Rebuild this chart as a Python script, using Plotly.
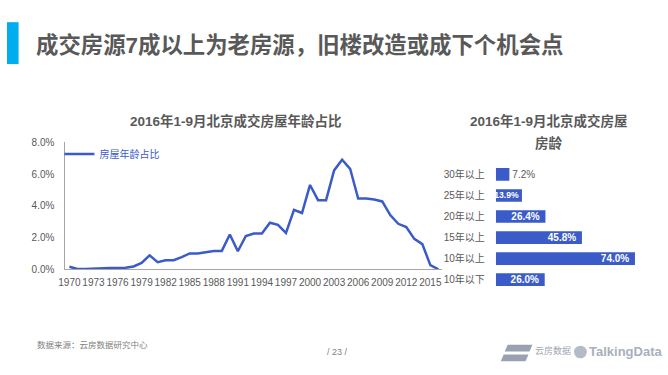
import plotly.graph_objects as go

# ---------------- data ----------------
years = [str(y) for y in range(1970, 2017)]
share = [0.16, 0.02, 0.02, 0.05, 0.08, 0.08, 0.08, 0.10, 0.18, 0.40,
         0.88, 0.45, 0.57, 0.57, 0.77, 1.00, 1.00, 1.06, 1.16, 1.16,
         2.20, 1.14, 2.10, 2.26, 2.26, 2.94, 2.81, 2.30, 3.75, 3.55,
         5.32, 4.36, 4.36, 6.24, 6.91, 6.34, 4.46, 4.46, 4.40, 4.28,
         3.42, 2.87, 2.67, 1.92, 1.59, 0.26, 0.00]
year_ticks = years[::3]
y_ticks = [0, 2, 4, 6, 8]
y_tick_labels = ["0.0%", "2.0%", "4.0%", "6.0%", "8.0%"]

age_groups = ["30年以上", "25年以上", "20年以上", "15年以上", "10年以上", "10年以下"]
age_values = [7.2, 13.9, 26.4, 45.8, 74.0, 26.0]

# ---------------- style ----------------
W, H = 668, 375
BLUE = "#3B5BC8"
GRAY = "#595959"
FONT = "Liberation Sans, Noto Sans CJK SC, sans-serif"


def px(x):
    return x / W


def py(y):
    return 1 - y / H


fig = go.Figure()

fig.add_trace(go.Scatter(
    x=years, y=share, mode="lines", name="房屋年龄占比",
    line=dict(color=BLUE, width=2.5), xaxis="x", yaxis="y",
    hovertemplate="%{x}: %{y:.2f}%<extra></extra>"))

positions = ["outside" if v < 10 else "inside" for v in age_values]
templates = ["%{x:.1f}%" if v < 20 else "%{x:.1f}%\u00a0" for v in age_values]
in_sizes = [10 if v >= 20 else 8.6 for v in age_values]
fig.add_trace(go.Bar(
    x=age_values, y=age_groups, orientation="h", xaxis="x2", yaxis="y2",
    marker=dict(color=BLUE, line=dict(width=0)), showlegend=False,
    textposition=positions, texttemplate=templates,
    insidetextanchor="end", constraintext="none", cliponaxis=False,
    insidetextfont=dict(color="white", size=in_sizes, family=FONT, weight="bold"),
    outsidetextfont=dict(color=GRAY, size=10, family=FONT),
    hovertemplate="%{y}: %{x:.1f}%<extra></extra>"))

fig.update_layout(
    width=W, height=H, margin=dict(l=0, r=0, t=0, b=0),
    paper_bgcolor="white", plot_bgcolor="white",
    font=dict(family=FONT, color=GRAY, size=10),
    bargap=0.4,
    showlegend=True,
    legend=dict(x=px(53), y=py(153), xanchor="left", yanchor="middle",
                bgcolor="rgba(0,0,0,0)", font=dict(size=10, color=BLUE),
                itemwidth=30),
    xaxis=dict(domain=[px(59), px(440)], type="category", range=[-0.5, 46.5],
               tickmode="array", tickvals=year_ticks, ticktext=year_ticks,
               showline=True, linecolor="#A6A6A6", linewidth=1,
               ticks="outside", ticklen=4, tickcolor="rgba(0,0,0,0)",
               showgrid=False, zeroline=False, anchor="y",
               tickfont=dict(size=10, color=GRAY), tickangle=0),
    yaxis=dict(domain=[py(272), py(141)], range=[0, 8],
               tickmode="array", tickvals=y_ticks, ticktext=y_tick_labels,
               showline=True, linecolor="#A6A6A6", linewidth=1,
               ticks="outside", ticklen=8, tickcolor="rgba(0,0,0,0)",
               showgrid=False, zeroline=False, anchor="x",
               tickfont=dict(size=10, color=GRAY)),
    xaxis2=dict(domain=[px(494), px(646)], range=[0, 80], visible=False,
                anchor="y2"),
    yaxis2=dict(domain=[py(293.6), py(163.1)], type="category",
                autorange="reversed", showline=False, showgrid=False,
                zeroline=False, ticks="outside", ticklen=8,
                tickcolor="rgba(0,0,0,0)", anchor="x2",
                tickfont=dict(size=10, color=GRAY)),
)

annotations = [
    dict(text="成交房源7成以上为老房源，旧楼改造或成下个机会点", x=px(27), y=py(40.5),
         xanchor="left", yanchor="middle",
         font=dict(size=22.4, color=GRAY, weight="bold")),
    dict(text="2016年1-9月北京成交房屋年龄占比", x=px(231.7), y=py(118.3),
         xanchor="center", yanchor="middle",
         font=dict(size=13.5, color=GRAY, weight="bold")),
    dict(text="2016年1-9月北京成交房屋", x=px(548), y=py(119),
         xanchor="center", yanchor="middle",
         font=dict(size=13.5, color=GRAY, weight="bold")),
    dict(text="房龄", x=px(548), y=py(141.7),
         xanchor="center", yanchor="middle",
         font=dict(size=13.5, color=GRAY, weight="bold")),
    dict(text="数据来源：云房数据研究中心", x=px(28), y=py(350),
         xanchor="left", yanchor="middle",
         font=dict(size=8.5, color="#7F7F7F")),
    dict(text="/ 23 /", x=px(334), y=py(357.5),
         xanchor="center", yanchor="middle",
         font=dict(size=9, color="#7F7F7F")),
    dict(text="云房数据", x=px(532), y=py(356),
         xanchor="left", yanchor="middle",
         font=dict(size=9, color="#A0A6B4")),
    dict(text="TalkingData", x=px(586), y=py(357),
         xanchor="left", yanchor="middle",
         font=dict(size=13, color="#A9AFBC", weight="bold",
                   family="Liberation Sans Narrow, Liberation Sans, sans-serif")),
]
for a in annotations:
    a.update(xref="paper", yref="paper", showarrow=False)
fig.update_layout(annotations=annotations)


def poly(points):
    return "M " + " L ".join(f"{px(x):.5f},{py(y):.5f}" for x, y in points) + " Z"


shapes = [
    dict(type="rect", x0=0, x1=px(11.7), y0=py(60), y1=py(16.7),
         fillcolor="#00AEEF", line=dict(width=0)),
    dict(type="path", path=poly([(506, 350), (531, 350), (528, 357), (503, 357)]),
         fillcolor="#9AA1B1", line=dict(width=0)),
    dict(type="path", path=poly([(502, 360), (527, 360), (524, 367), (499, 367)]),
         fillcolor="#9AA1B1", line=dict(width=0)),
    dict(type="circle", x0=px(573), x1=px(586), y0=py(364), y1=py(351),
         fillcolor="#B5BAC6", line=dict(width=0)),
]
for s in shapes:
    s.update(xref="paper", yref="paper")
fig.update_layout(shapes=shapes)

post = ("document.documentElement.style.margin='0';"
        "document.body.style.margin='0';document.body.style.padding='0';"
        "document.body.style.overflow='hidden';"
        "var gd=document.getElementById('{plot_id}');"
        "gd.style.position='absolute';gd.style.left='0px';gd.style.top='0px';")
fig.write_html("out.html", config={"displayModeBar": False}, post_script=post)
